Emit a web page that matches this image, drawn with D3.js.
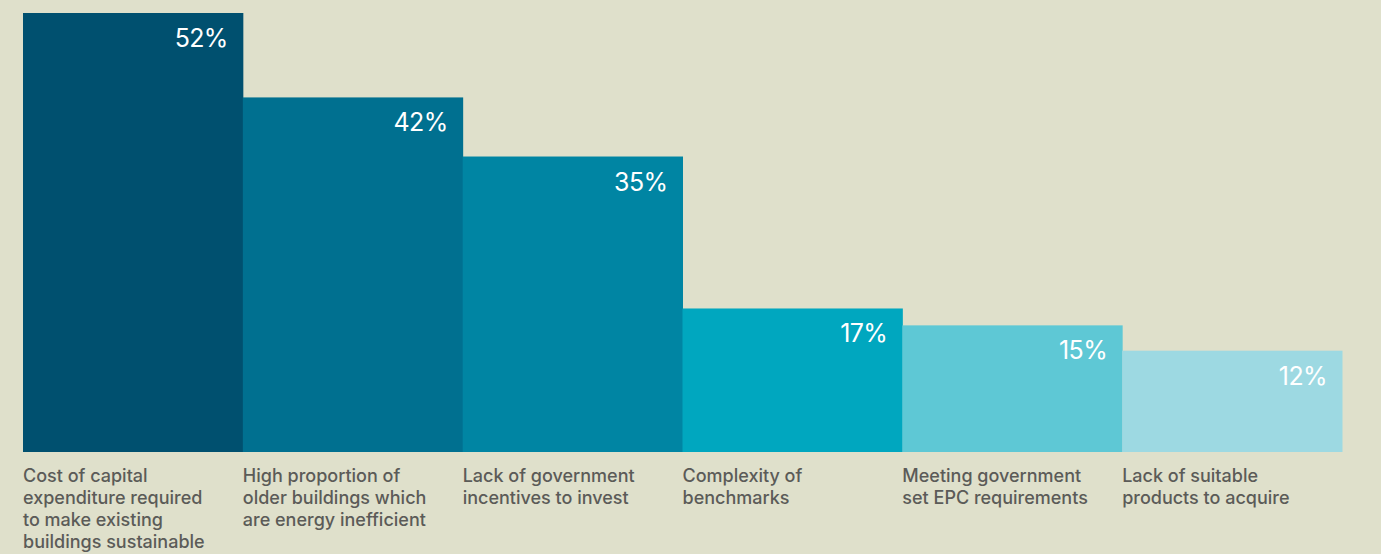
<!DOCTYPE html>
<html>
<head>
<meta charset="utf-8">
<script src="https://cdn.jsdelivr.net/npm/d3@7"></script>
<style>
  html, body { margin: 0; padding: 0; background: #dfe0cb; }
  svg { display: block; }
  .value { font-family: Inter, "Noto Sans", sans-serif; font-size: 25px; fill: #fff; letter-spacing: -0.6px; }
  .cat { font-family: Inter, "Noto Sans", sans-serif; font-size: 18px; font-weight: 500; fill: #5b5b58; }
</style>
</head>
<body>
<svg id="chart" width="1381" height="554"></svg>
<script>
// ---- data ----
const categories = [
  ["Cost of capital", "expenditure required", "to make existing", "buildings sustainable"],
  ["High proportion of", "older buildings which", "are energy inefficient"],
  ["Lack of government", "incentives to invest"],
  ["Complexity of", "benchmarks"],
  ["Meeting government", "set EPC requirements"],
  ["Lack of suitable", "products to acquire"]
];
const values = [52, 42, 35, 17, 15, 12];
const colors = ["#00506f", "#007090", "#0085a3", "#00a7bf", "#5ec8d5", "#9dd9e2"];

const svg = d3.select("#chart");
const plotLeft = 23, plotRight = 1342, plotTop = 13, base = 452;

const x = d3.scaleBand().domain(d3.range(values.length)).range([plotLeft, plotRight]).padding(0);
const y = d3.scaleLinear().domain([0, d3.max(values)]).range([base, plotTop]);

const bars = svg.selectAll("g.bar").data(values).join("g").attr("class", "bar");

bars.append("rect")
  .attr("x", (d, i) => x(i))
  .attr("y", d => y(d))
  .attr("width", x.bandwidth() + 0.5)
  .attr("height", d => base - y(d))
  .attr("fill", (d, i) => colors[i]);

bars.append("text").attr("class", "value")
  .attr("x", (d, i) => x(i) + x.bandwidth() - 15)
  .attr("y", d => y(d) + 34)
  .attr("text-anchor", "end")
  .text(d => d + "%");

// category labels under each bar
const labels = svg.selectAll("text.cat").data(categories).join("text")
  .attr("class", "cat")
  .attr("x", (d, i) => x(i))
  .attr("y", base + 30);
labels.selectAll("tspan").data(d => d).join("tspan")
  .attr("x", function() { return this.parentNode.getAttribute("x"); })
  .attr("dy", (d, j) => j === 0 ? 0 : 22)
  .text(d => d);
</script>
</body>
</html>
